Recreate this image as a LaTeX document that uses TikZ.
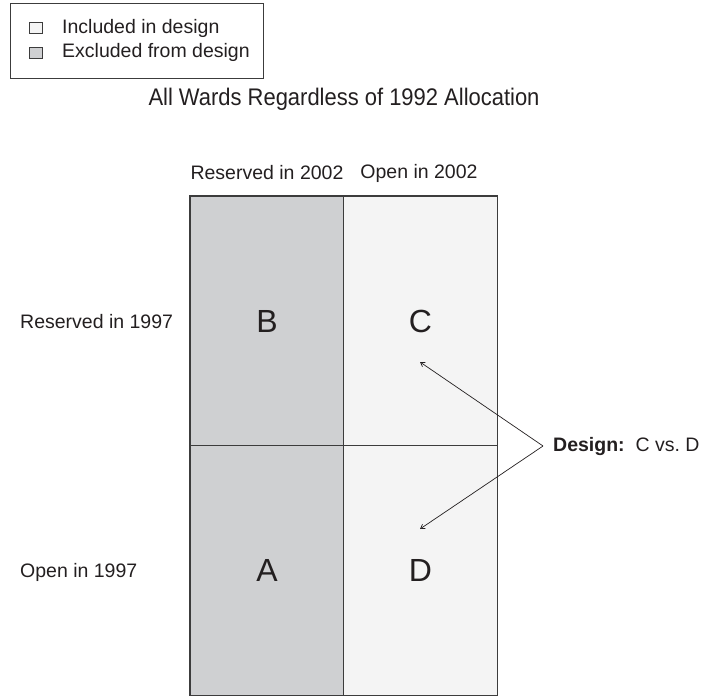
\documentclass[tikz,border=0pt]{standalone}
\usepackage{fontspec}
\setmainfont{Liberation Sans}
\newfontfamily\titlefont{Liberation Sans}[FakeStretch=0.915]
\usetikzlibrary{arrows.meta}
\definecolor{excl}{RGB}{207,208,210}
\definecolor{incl}{RGB}{244,244,244}
\definecolor{ink}{RGB}{35,31,32}
\definecolor{edge}{RGB}{60,60,60}
\tikzset{
  cell/.style={draw=edge, line width=1.2pt, minimum width=154pt, minimum height=250pt, inner sep=0pt,
    text=ink, font=\fontsize{32}{36}\selectfont},
  lbl/.style={text=ink, inner sep=0pt, font=\fontsize{19.5}{22}\selectfont},
  swatch/.style={draw=edge, line width=0.8pt, minimum width=13pt, minimum height=11pt, inner sep=0pt},
  pointer/.style={draw=ink, line width=0.7pt, -{Straight Barb[length=4pt,width=5pt]}}
}
\begin{document}
\begin{tikzpicture}[x=1pt,y=-1pt]
\useasboundingbox (0,0) rectangle (701,696);
% legend
\node[draw=edge, line width=0.9pt, minimum width=253pt, minimum height=75pt, inner sep=0pt] (legend) at (136.5,40.5) {};
\node[swatch, fill=incl] (swI) at (36,27.5) {};
\node[swatch, fill=excl] (swE) at (36,52.5) {};
\node[lbl, anchor=west] (tI) at (62,28) {Included in design};
\node[lbl, anchor=west] (tE) at (62,52) {Excluded from design};
% title
\node[text=ink, inner sep=0pt, font=\titlefont\fontsize{24}{28}\selectfont] (title) at (344,99) {All Wards Regardless of 1992 Allocation};
% column headers
\node[lbl] (h1) at (267,173) {Reserved in 2002};
\node[lbl] (h2) at (419,173) {Open in 2002};
% cells
\node[cell, fill=excl] (B) at (267,321) {B};
\node[cell, fill=incl] (C) at (420.5,321) {C};
\node[cell, fill=excl] (A) at (267,570.5) {A};
\node[cell, fill=incl] (D) at (420.5,570.5) {D};
% row labels
\node[lbl, anchor=west] (r1) at (20,322) {Reserved in 1997};
\node[lbl, anchor=west] (r2) at (20,572) {Open in 1997};
% design
\node[lbl, anchor=west] (design) at (553,446) {\textbf{Design:}\ \ C vs.\ D};
\coordinate (apex) at (543,446);
\coordinate (cT) at (420,362);
\coordinate (dT) at (420,529);
\draw[pointer] (apex) -- (cT);
\draw[pointer] (apex) -- (dT);
\end{tikzpicture}
\end{document}
